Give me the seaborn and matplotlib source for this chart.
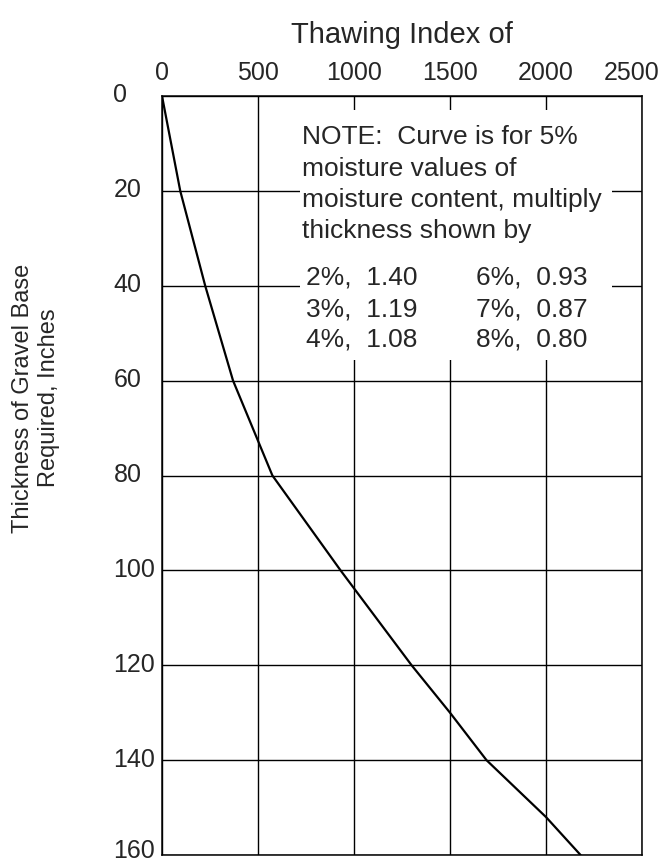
import matplotlib
matplotlib.use("Agg")
import matplotlib.pyplot as plt
import matplotlib.transforms as mtransforms
import seaborn as sns
import pandas as pd
from matplotlib.patches import Rectangle

# ---- data ----
thawing_index = [0, 95, 225, 370, 575, 930, 1300, 1500, 1690, 2000, 2180]
thickness_in = [0, 20, 40, 60, 80, 100, 120, 130, 140, 152, 160]
x_ticks = [0, 500, 1000, 1500, 2000, 2500]
y_ticks = [0, 20, 40, 60, 80, 100, 120, 140, 160]
note_lines = ["NOTE:  Curve is for 5%", "moisture values of",
              "moisture content, multiply", "thickness shown by"]
moist_left = ["2%", "3%", "4%"]
factor_left = ["1.40", "1.19", "1.08"]
moist_right = ["6%", "7%", "8%"]
factor_right = ["0.93", "0.87", "0.80"]

sns.set_style("white")
plt.rcParams["font.family"] = ["Liberation Sans", "DejaVu Sans"]
FS_TICK = 18
FS_NOTE = 19
FS_TITLE = 21
FS_YLAB = 17

W, H = 662, 863
fig = plt.figure(figsize=(W / 100, H / 100), dpi=100)
L, R, T, B = 162, 642, 96, 855
ax = fig.add_axes([L / W, 1 - B / H, (R - L) / W, (B - T) / H])

df = pd.DataFrame({"Thawing Index": thawing_index, "Thickness": thickness_in})
sns.lineplot(data=df, x="Thawing Index", y="Thickness", ax=ax, color="black",
             lw=1.6, sort=False, zorder=5)

ax.set_xlim(0, 2500)
ax.set_ylim(160, 0)
ax.set_xticks(x_ticks)
ax.set_yticks(y_ticks)
ax.xaxis.tick_top()
ax.set_xlabel("")
ax.set_ylabel("")
ax.tick_params(axis="x", length=0, pad=8, labelsize=FS_TICK, top=False,
               labeltop=True, bottom=False, labelbottom=False)
ax.tick_params(axis="y", length=0, pad=35, labelsize=FS_TICK)
yl = ax.get_yticklabels()
for i, lab in enumerate(yl):
    lab.set_horizontalalignment("left")
    up = 7 if i == len(yl) - 1 else 3
    lab.set_transform(lab.get_transform() +
                      mtransforms.ScaledTranslation(0, up / 100, fig.dpi_scale_trans))
xl = ax.get_xticklabels()
xl[-1].set_transform(xl[-1].get_transform() +
                     mtransforms.ScaledTranslation(-10 / 100, 0, fig.dpi_scale_trans))
ax.grid(True, color="black", lw=1.0)
for s in ax.spines.values():
    s.set_color("black")
    s.set_linewidth(1.1)

# white box behind the note
ax.add_patch(Rectangle(((300 - L) / (R - L), 1 - (360 - T) / (B - T)),
                       (612 - 300) / (R - L), (360 - 110) / (B - T),
                       transform=ax.transAxes, facecolor="white",
                       edgecolor="none", zorder=3))

def ay(py):
    return 1 - (py - T) / (B - T)

def axx(px):
    return (px - L) / (R - L)

for txt, py in zip(note_lines, [137, 169, 200, 231]):
    ax.text(axx(302), ay(py), txt, transform=ax.transAxes, fontsize=FS_NOTE,
            va="center", ha="left", zorder=6)
for i, py in enumerate([278, 309, 340]):
    ax.text(axx(306), ay(py), f"{moist_left[i]},  {factor_left[i]}",
            transform=ax.transAxes, fontsize=FS_NOTE, va="center", ha="left",
            zorder=6)
    ax.text(axx(476), ay(py), f"{moist_right[i]},  {factor_right[i]}",
            transform=ax.transAxes, fontsize=FS_NOTE, va="center", ha="left",
            zorder=6)

fig.text(402 / W, 1 - 35 / H, "Thawing Index of", ha="center", va="center",
         fontsize=FS_TITLE)
fig.text(36 / W, 1 - 398 / H, "Thickness of Gravel Base\nRequired, Inches",
         rotation=90, ha="center", va="center", fontsize=FS_YLAB,
         linespacing=1.2)

fig.savefig("out.png", dpi=100)
